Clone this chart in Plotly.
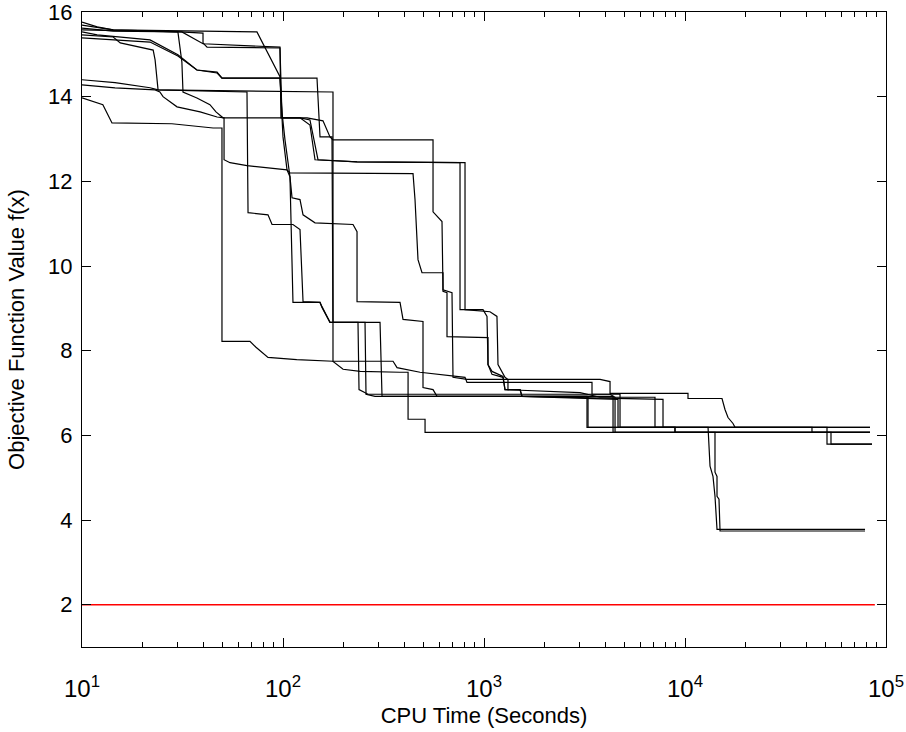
import plotly.graph_objects as go

# ---- data: CPU time (s) and objective value for each run ----
t_a = [10, 12.7, 14.1, 28.0, 44.9, 49.7, 49.7, 68.5, 73.4, 84.2, 117, 177, 199, 242, 382, 419, 419, 509, 509, 83250]
f_a = [13.97, 13.81, 13.38, 13.36, 13.26, 13.26, 8.22, 8.22, 8.08, 7.84, 7.79, 7.75, 7.56, 7.51, 7.49, 7.49, 6.38, 6.38, 6.07, 6.07]

t_b = [10, 11.9, 14.3, 34.5, 74.2, 96.6, 98.9, 102.3, 108.3, 112.1, 152.8, 156.3, 171.3, 303.9, 310.9, 3292, 3292, 8917, 8917, 14100, 14100, 14430, 14430, 14760, 14940, 78640]
f_b = [15.76, 15.65, 15.58, 15.55, 15.53, 14.47, 13.62, 12.98, 12.11, 9.14, 9.14, 9.02, 8.67, 8.67, 6.92, 6.92, 6.19, 6.19, 6.07, 6.07, 5.13, 5.03, 4.56, 4.49, 3.74, 3.74]

t_c = [10, 14.3, 30.7, 40.0, 40.0, 41.9, 96.6, 98.9, 131.7, 158.1, 171.3, 177.3, 557.7, 557.7, 618.1, 625.2, 693.1, 701.1, 823.1, 3777, 4237, 4237, 10350, 10350, 15280, 15810, 16370, 17330, 17740, 83250]
f_c = [15.69, 15.58, 15.53, 15.50, 15.27, 15.17, 15.15, 13.50, 13.50, 13.43, 13.05, 12.98, 12.98, 11.28, 11.05, 9.44, 9.37, 7.37, 7.32, 7.32, 7.27, 6.99, 6.99, 6.87, 6.87, 6.61, 6.42, 6.28, 6.19, 6.19]

t_d = [10, 14.6, 21.8, 23.9, 177.3, 177.3, 352.7, 369.3, 480.4, 804.6, 823.1, 3446, 3446, 4237, 4487, 4487, 83250]
f_d = [14.40, 14.33, 14.21, 14.16, 14.11, 7.75, 7.75, 7.60, 7.49, 7.37, 7.25, 7.25, 6.97, 6.97, 6.90, 6.07, 6.07]

t_e = [10, 14.3, 15.5, 22.6, 23.1, 23.9, 66.2, 67.0, 84.2, 88.2, 112.1, 121.5, 125.8, 152.8, 156.3, 171.3, 236.1, 238.9, 264.9, 4750, 4750, 13020, 13320, 13780, 14100, 14430, 78640]
f_e = [15.46, 15.41, 15.27, 15.10, 14.87, 14.16, 14.11, 11.26, 11.21, 10.98, 10.98, 10.86, 9.16, 9.14, 9.04, 8.67, 8.67, 7.08, 6.97, 6.97, 6.19, 6.19, 5.27, 5.03, 4.56, 3.78, 3.78]

t_f = [10, 14.6, 23.1, 24.4, 25.3, 29.7, 38.7, 47.0, 50.9, 50.9, 54.5, 66.2, 104.7, 108.3, 443.5, 453.7, 469.5, 491.5, 625.2, 625.2, 654.5, 654.5, 1047, 1047, 1096, 1243, 1272, 3004, 3777, 7091, 7091, 42830, 42830, 83250]
f_f = [14.28, 14.21, 14.16, 14.11, 14.00, 13.76, 13.64, 13.52, 13.50, 12.51, 12.44, 12.37, 12.27, 12.20, 12.18, 11.57, 10.15, 9.84, 9.84, 9.40, 9.37, 8.33, 8.31, 7.67, 7.51, 7.39, 7.08, 7.01, 6.90, 6.90, 6.19, 6.19, 6.07, 6.07]

t_g = [10, 17.3, 30.0, 31.4, 31.8, 37.3, 43.3, 46.4, 50.3, 121.5, 136.2, 144.3, 233.5, 759.8, 759.8, 988.6, 1035, 1047, 1096, 1243, 1272, 1511, 1546, 4642, 4642, 8917, 8917, 53250, 53250, 85170]
f_g = [15.58, 15.55, 15.53, 14.82, 14.11, 13.97, 13.81, 13.64, 13.50, 13.50, 13.33, 12.51, 12.46, 12.44, 8.97, 8.97, 8.81, 7.67, 7.44, 7.37, 7.08, 7.08, 6.92, 6.85, 6.19, 6.19, 6.07, 6.07, 5.79, 5.79]

t_h = [10, 11.9, 21.8, 30.0, 37.3, 47.0, 49.7, 96.6, 100, 104.7, 108.3, 110.9, 121.5, 125.8, 144.3, 223.0, 233.5, 233.5, 382.1, 395.5, 497.2, 497.2, 557.7, 583.9, 4385, 4385, 83250]
f_h = [15.53, 15.46, 15.34, 14.99, 14.63, 14.58, 14.44, 14.44, 13.05, 12.27, 12.11, 11.61, 11.57, 11.21, 11.02, 10.98, 10.81, 9.16, 9.14, 8.74, 8.69, 7.13, 7.08, 6.92, 6.92, 6.07, 6.07]

t_i = [10, 14.3, 21.8, 30.0, 37.3, 47.0, 49.7, 147.6, 152.8, 175.3, 177.3, 255.9, 258.8, 287.0, 3254, 3254, 50870, 50870, 85170]
f_i = [15.39, 15.34, 15.29, 14.96, 14.63, 14.56, 14.44, 14.44, 13.05, 13.05, 8.67, 8.67, 6.97, 6.92, 6.92, 6.19, 6.19, 5.79, 5.79]

t_j = [10, 14.3, 31.4, 40.0, 96.6, 97.7, 121.5, 136.2, 149.3, 233.5, 804.6, 804.6, 1071, 1160, 1174, 1272, 1316, 1316, 1511, 1546, 7773, 7773, 83250]
f_j = [15.62, 15.55, 15.53, 15.25, 15.17, 13.50, 13.50, 13.45, 12.51, 12.46, 12.44, 8.97, 8.92, 8.81, 7.67, 7.37, 7.32, 7.08, 7.08, 6.92, 6.85, 6.19, 6.19]

ref_t = [10, 88000]
ref_f = [2, 2]

x_tickvals = [10, 100, 1000, 10000, 100000]
x_ticktext = ["10<sup>1</sup>", "10<sup>2</sup>", "10<sup>3</sup>", "10<sup>4</sup>", "10<sup>5</sup>"]
y_tickvals = [2, 4, 6, 8, 10, 12, 14, 16]

runs = [(t_a, f_a), (t_b, f_b), (t_c, f_c), (t_d, f_d), (t_e, f_e),
        (t_f, f_f), (t_g, f_g), (t_h, f_h), (t_i, f_i), (t_j, f_j)]

fig = go.Figure()
for t, f in runs:
    fig.add_trace(go.Scatter(x=t, y=f, mode="lines",
                             line=dict(color="black", width=1.2),
                             showlegend=False, hoverinfo="skip"))
fig.add_trace(go.Scatter(x=ref_t, y=ref_f, mode="lines",
                         line=dict(color="#ff0000", width=1.5),
                         showlegend=False, hoverinfo="skip"))

font = dict(family="Liberation Sans, Arial, sans-serif", size=22, color="black")
xtickfont = dict(family="Liberation Sans, Arial, sans-serif", size=24, color="black")
ytickfont = dict(family="Liberation Sans, Arial, sans-serif", size=22, color="black")

fig.update_layout(
    width=906, height=732,
    margin=dict(l=82, r=20, t=12, b=85),
    paper_bgcolor="white", plot_bgcolor="white",
    font=font,
    xaxis=dict(
        type="log", range=[1, 5], automargin=False,
        tickvals=x_tickvals, ticktext=x_ticktext, tickfont=xtickfont,
        ticks="inside", ticklen=9, tickwidth=1, tickcolor="black",
        minor=dict(ticks="inside", ticklen=5, tickwidth=1, tickcolor="black",
                   dtick="D1", showgrid=False),
        showline=True, linecolor="black", linewidth=1, mirror="ticks",
        showgrid=False, zeroline=False,
        ticklabelstandoff=20, ticklabeloverflow="allow",
        title=dict(text="CPU Time (Seconds)", font=font, standoff=6),
    ),
    yaxis=dict(
        range=[1, 16], automargin=False,
        tickvals=y_tickvals, tickfont=ytickfont,
        ticks="inside", ticklen=9, tickwidth=1, tickcolor="black",
        showline=True, linecolor="black", linewidth=1, mirror="ticks",
        showgrid=False, zeroline=False,
        ticklabelstandoff=4, ticklabeloverflow="allow",
        title=dict(text="Objective Function Value f(x)", font=font, standoff=17),
    ),
)

fig.write_html("out.html")
